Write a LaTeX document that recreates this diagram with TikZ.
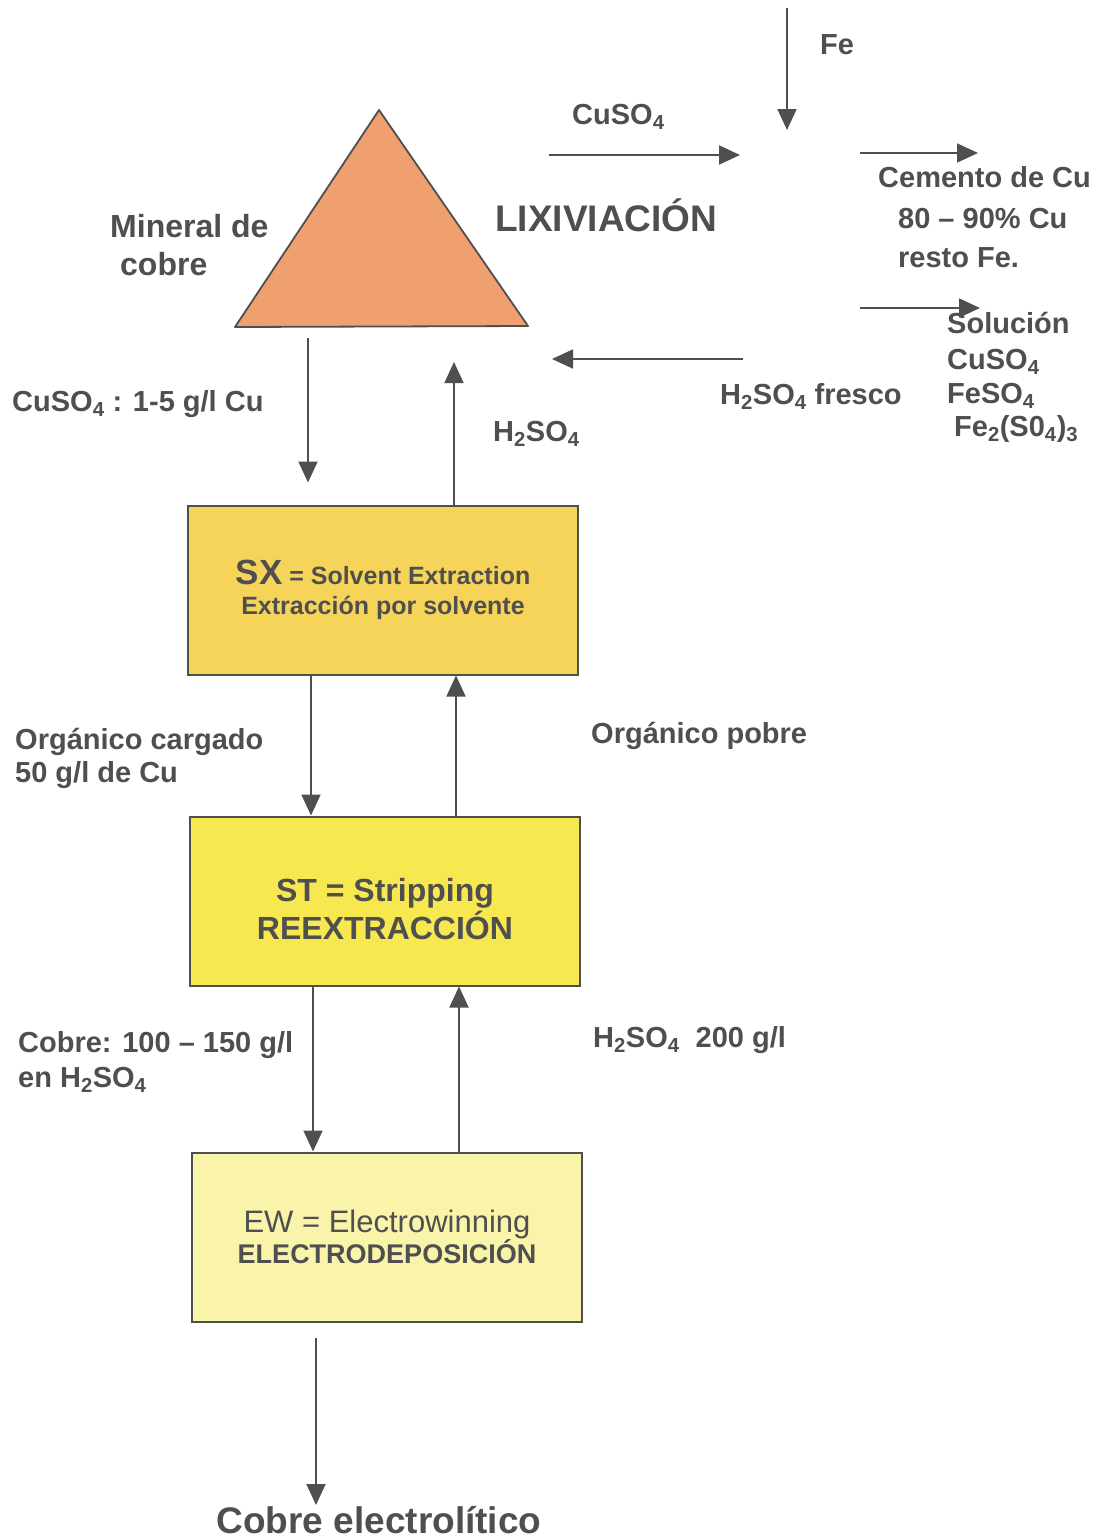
\documentclass[tikz,border=0pt]{standalone}
\usepackage{fontspec}
\setmainfont{Liberation Sans}
\usetikzlibrary{arrows.meta}
\definecolor{ink}{HTML}{4F4F4F}
\definecolor{tri}{HTML}{EFA06E}
\definecolor{sxc}{HTML}{F6D45A}
\definecolor{stc}{HTML}{F8E850}
\definecolor{ewc}{HTML}{FAF4AA}
\begin{document}
\begin{tikzpicture}[x=1pt,y=-1pt,
  arr/.style={draw=ink, line width=1.8pt, -{Triangle[length=21pt,width=19pt]}},
  lbl/.style={anchor=base west, inner sep=0pt, text=ink, font=\fontsize{29}{36}\selectfont\bfseries},
  box/.style={draw=ink, line width=2pt, minimum width=390pt, minimum height=169pt, text=ink, align=center, inner sep=0pt}
]
\useasboundingbox[fill=white] (0,0) rectangle (1103,1540);

% triangle (lixiviacion heap)
\coordinate (tA) at (379,110);
\coordinate (tL) at (235,327);
\coordinate (tR) at (528,326);
\draw[fill=tri, draw=ink, line width=1.8pt, line join=round] (tA) -- (tL) -- (tR) -- cycle;

\node[lbl, font=\fontsize{32}{36}\selectfont\bfseries] (min1) at (110,237) {Mineral de};
\node[lbl, font=\fontsize{32}{36}\selectfont\bfseries] (min2) at (120,275) {cobre};
\node[lbl, font=\fontsize{37}{44}\selectfont\bfseries] (lix) at (495,231) {LIXIVIACIÓN};

% top right region
\coordinate (fe0) at (787,8);
\coordinate (fe1) at (787,130);
\node[lbl] (fe) at (820,54) {Fe};
\coordinate (cu0) at (549,155);
\coordinate (cu1) at (740,155);
\node[lbl] (cuso) at (572,124) {CuSO\textsubscript{4}};
\coordinate (ce0) at (860,153);
\coordinate (ce1) at (978,153);
\node[lbl] (ce1t) at (878,187) {Cemento de Cu};
\node[lbl] (ce2t) at (898,228) {80 – 90\% Cu};
\node[lbl] (ce3t) at (898,267) {resto Fe.};
\coordinate (so0) at (860,308);
\coordinate (so1) at (980,308);
\node[lbl] (so1t) at (947,333) {Solución};
\node[lbl] (so2t) at (947,369) {CuSO\textsubscript{4}};
\node[lbl] (so3t) at (947,403) {FeSO\textsubscript{4}};
\node[lbl] (so4t) at (954,436) {Fe\textsubscript{2}(S0\textsubscript{4})\textsubscript{3}};
\coordinate (hf0) at (743,359);
\coordinate (hf1) at (552,359);
\node[lbl] (hft) at (720,404) {H\textsubscript{2}SO\textsubscript{4} fresco};

\draw[arr] (fe0) -- (fe1);
\draw[arr] (cu0) -- (cu1);
\draw[arr] (ce0) -- (ce1);
\draw[arr] (so0) -- (so1);
\draw[arr] (hf0) -- (hf1);

% boxes
\node[box, fill=sxc, font=\fontsize{25}{30}\selectfont\bfseries] (sx) at (383,590)
  {{\fontsize{35}{30}\selectfont SX} = Solvent Extraction\\Extracción por solvente};
\node[box, fill=stc, font=\fontsize{32}{38}\selectfont\bfseries] (st) at (385,901)
  {\rule{0pt}{39pt}ST = Stripping\\REEXTRACCIÓN};
\node[box, fill=ewc] (ew) at (387,1237)
  {\fontsize{31}{33}\selectfont EW = Electrowinning\\\fontsize{27}{33}\selectfont\bfseries ELECTRODEPOSICIÓN};

% triangle <-> SX
\coordinate (t1) at (308,338);
\coordinate (t2) at (454,362);
\draw[arr, shorten >=22pt] (t1) -- (t1 |- sx.north);
\draw[arr] (sx.north -| t2) -- (t2);
\node[lbl] (l1) at (12,411) {CuSO\textsubscript{4} : 1-5 g/l Cu};
\node[lbl] (l2) at (493,441) {H\textsubscript{2}SO\textsubscript{4}};

% SX <-> ST
\draw[arr] ([xshift=-72pt]sx.south) -- ([xshift=-72pt]sx.south |- st.north);
\draw[arr] ([xshift=71pt]st.north) -- ([xshift=71pt]st.north |- sx.south);
\node[lbl] (l3) at (15,749) {Orgánico cargado};
\node[lbl] (l4) at (15,782) {50 g/l de Cu};
\node[lbl] (l5) at (591,743) {Orgánico pobre};

% ST <-> EW
\draw[arr] ([xshift=-72pt]st.south) -- ([xshift=-72pt]st.south |- ew.north);
\draw[arr] ([xshift=72pt]ew.north) -- ([xshift=72pt]ew.north |- st.south);
\node[lbl] (l6) at (18,1052) {Cobre: 100 – 150 g/l};
\node[lbl] (l7) at (18,1087) {en H\textsubscript{2}SO\textsubscript{4}};
\node[lbl] (l8) at (593,1047) {H\textsubscript{2}SO\textsubscript{4}\ \ 200 g/l};

% product
\coordinate (out) at (316,1505);
\draw[arr, shorten <=15pt] (ew.south -| out) -- (out);
\node[lbl, anchor=base, font=\fontsize{37}{40}\selectfont\bfseries] (prod) at (379,1533) {Cobre electrolítico};
\end{tikzpicture}
\end{document}
